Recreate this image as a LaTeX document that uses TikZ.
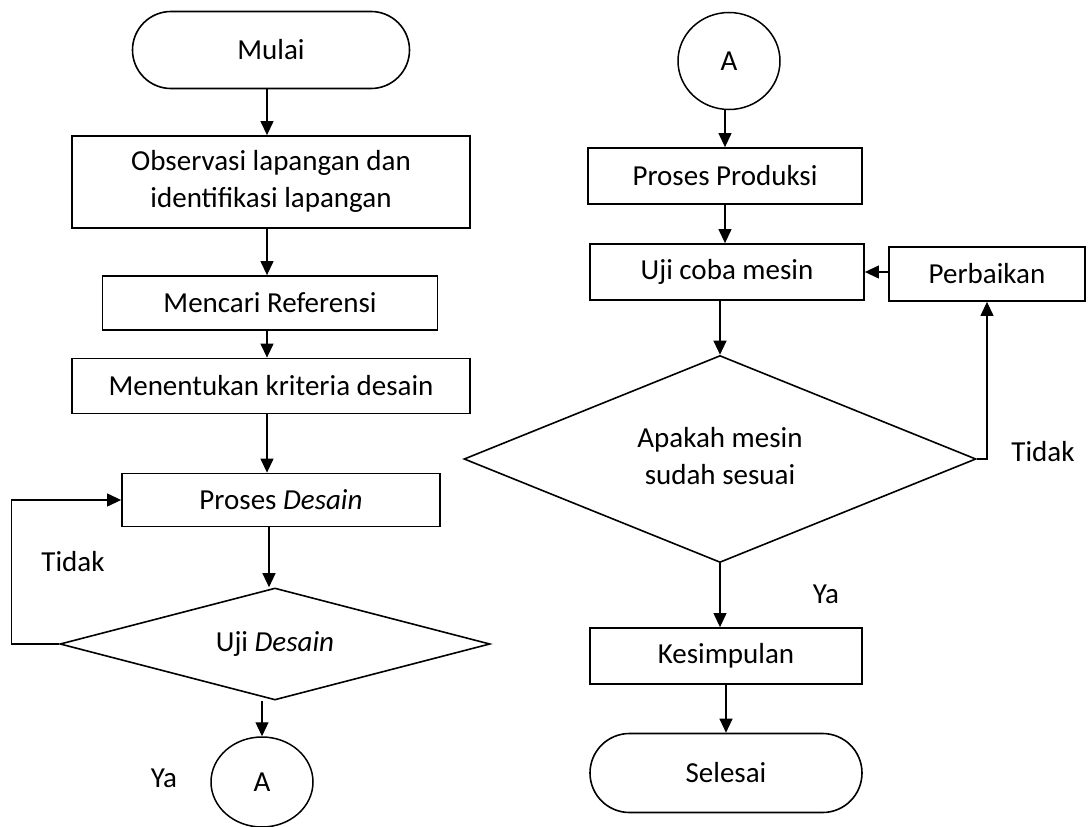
\documentclass[tikz,border=0pt]{standalone}
\usepackage{fontspec}
\setmainfont{Carlito}
\usetikzlibrary{arrows.meta,shapes.geometric,shapes.misc}
\begin{document}
\begin{tikzpicture}[x=1pt,y=-1pt,
  every node/.style={font=\fontsize{29}{37}\selectfont},
  box/.style={draw,line width=1.8pt,rectangle,inner sep=0pt,align=center},
  term/.style={draw,line width=1.6pt,rounded rectangle,inner sep=0pt},
  conn/.style={draw,line width=1.5pt,ellipse,inner sep=0pt},
  dec/.style={draw,line width=1.6pt,diamond,inner sep=0pt,align=center},
  arr/.style={line width=1.2pt,-{Triangle[length=14pt,width=13pt]}},
  lbl/.style={inner sep=0pt}]
\useasboundingbox (0,0) rectangle (1088,827);
% left column
\node[term,minimum width=277pt,minimum height=77pt] (mulai) at (271,50) {Mulai};
\node[box,minimum width=398pt,minimum height=92pt] (obs) at (271,182) {\raisebox{-3pt}{\begin{tabular}{@{}c@{}}Observasi lapangan dan\\identifikasi lapangan\end{tabular}}};
\node[box,minimum width=335pt,minimum height=54pt] (ref) at (270,303) {Mencari Referensi};
\node[box,minimum width=398pt,minimum height=55pt] (krit) at (271,386) {Menentukan kriteria desain};
\node[box,minimum width=318pt,minimum height=53pt] (pdes) at (281,500) {Proses \textit{Desain}};
\node[dec,shape aspect=3.84,minimum width=430pt,minimum height=112pt] (udes) at (275,644) {Uji \textit{Desain}};
\node[conn,minimum width=102pt,minimum height=90pt] (a1) at (262,782) {A};
\node[lbl] (tidak1) at (73,562) {Tidak};
\node[lbl] (ya1) at (164,778) {Ya};
% right column
\node[conn,minimum width=102pt,minimum height=97pt] (a2) at (729,61) {A};
\node[box,minimum width=274pt,minimum height=56pt] (prod) at (725,176) {Proses Produksi};
\node[box,minimum width=274pt,minimum height=56pt] (uji) at (727,272) {Uji coba mesin};
\node[box,minimum width=196pt,minimum height=54pt] (perb) at (987,274) {Perbaikan};
\node[dec,shape aspect=2.47,minimum width=512pt,minimum height=207pt] (apa) at (720,459) {\begin{tabular}{@{}c@{}}Apakah mesin\\sudah sesuai\end{tabular}};
\node[box,minimum width=272pt,minimum height=56pt] (kes) at (726,656) {Kesimpulan};
\node[term,minimum width=272pt,minimum height=79pt] (sel) at (726,773) {Selesai};
\node[lbl] (tidak2) at (1043,452) {Tidak};
\node[lbl] (ya2) at (826,594) {Ya};
% connectors left
\draw[arr] (mulai.south -| 267,0) -- (obs.north -| 267,0);
\draw[arr] (obs.south -| 267,0) -- (ref.north -| 267,0);
\draw[arr] (ref.south -| 267,0) -- (krit.north -| 267,0);
\draw[arr] (krit.south -| 267,0) -- (pdes.north -| 267,0);
\draw[arr] (pdes.south -| 269,0) -- (udes.north -| 269,0);
\draw[arr] (udes.west) -- ++(-48,0) |- (pdes.west);
\draw[arr] (a1.north |- udes.south) -- (a1.north);
% connectors right
\draw[arr] (a2.south -| prod.north) -- (prod.north);
\draw[arr] (prod.south) -- (prod.south |- uji.north);
\draw[arr] (perb.west |- uji.east) -- (uji.east);
\draw[arr] (uji.south -| apa.north) -- (apa.north);
\draw[arr] (apa.east) -| (perb.south);
\draw[arr] (apa.south) -- (apa.south |- kes.north);
\draw[arr] (kes.south) -- (kes.south |- sel.north);
\end{tikzpicture}
\end{document}
